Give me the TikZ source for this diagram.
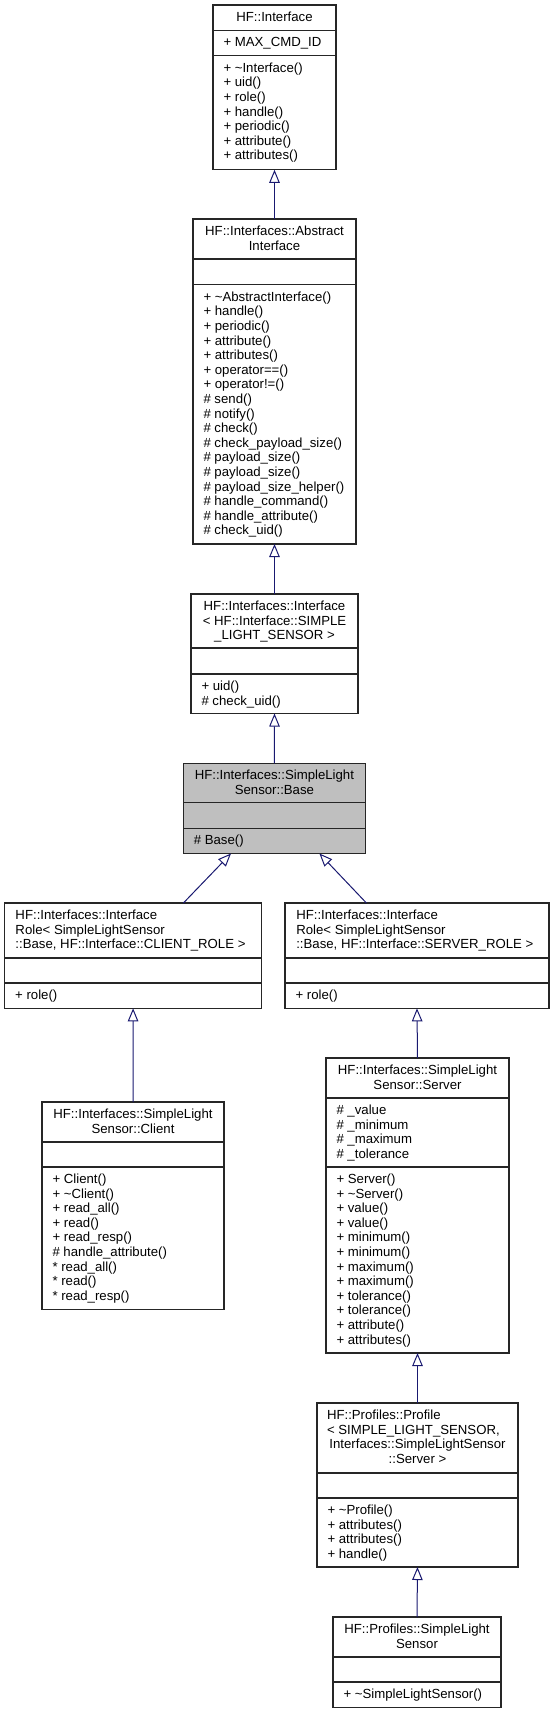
\documentclass[tikz,border=0pt]{standalone}
\usepackage{fontspec}
\setmainfont{Liberation Sans}
\usetikzlibrary{arrows.meta}
\definecolor{edgeblue}{RGB}{25,25,112}
\definecolor{basegray}{RGB}{191,191,191}
\newcommand{\hfstrut}{\rule{0pt}{12pt}}
\newcommand{\tld}{\textasciitilde}
\tikzset{
  cls/.style={draw=black!85, line width=1.1pt, fill=white, inner sep=0pt, outer sep=0pt, anchor=north west},
  sepline/.style={draw=black!85, line width=1.1pt},
  txt/.style={inner sep=0pt, outer sep=0pt, font=\fontsize{13.2}{14.6}\selectfont},
  ltxt/.style={txt, anchor=north west, align=left},
  ctxt/.style={txt, anchor=north, align=center},
  inh/.style={draw=edgeblue, line width=1pt, -{Triangle[open, length=13pt, width=10.5pt, line width=1pt]}},
}
% #1 options, #2 name, #3 x1, #4 x2, #5 top, #6 sep1, #7 sep2, #8 bottom
\newcommand{\umlbox}[8][]{%
  \pgfmathsetmacro\bxw{#4-#3}\pgfmathsetmacro\bxh{#8-#5}%
  \node[cls,#1,minimum width=\bxw pt,minimum height=\bxh pt] (#2) at (#3,#5) {};
  \draw[sepline] (#3,#6) -- (#4,#6);
  \draw[sepline] (#3,#7) -- (#4,#7);
}
\begin{document}
\begin{tikzpicture}[x=1pt,y=-1pt]
\useasboundingbox (0,0) rectangle (555,1713);

% ---------- boxes ----------
\umlbox{iface}{213}{336}{5}{30.4}{55.8}{169.8}
\umlbox{abstract}{193}{356}{219}{259}{284.8}{544}
\umlbox{ifaceT}{191}{358}{594}{648}{674}{713.5}
\umlbox[fill=basegray]{base}{183.3}{365.5}{763.3}{802.8}{828.3}{853.5}
\umlbox{clientRole}{4.7}{261.5}{903}{958}{983}{1008.3}
\umlbox{serverRole}{285}{549}{903}{958}{983}{1008.3}
\umlbox{client}{42}{224}{1102}{1142}{1167}{1309.5}
\umlbox{server}{326}{509}{1058}{1098}{1167}{1353}
\umlbox{profile}{317}{518}{1403}{1473}{1498}{1567}
\umlbox{sls}{333}{501}{1617}{1657}{1682}{1707.5}

% ---------- texts ----------
\node[ctxt] (iface-t) at (274.5,9.5) {\hfstrut HF::Interface};
\node[ltxt] (iface-a) at (223.5,34.9) {\hfstrut + MAX\_CMD\_ID};
\node[ltxt] (iface-m) at (223.5,60.3) {\hfstrut + \tld Interface()\\+ uid()\\+ role()\\+ handle()\\+ periodic()\\+ attribute()\\+ attributes()};

\node[ctxt] (abstract-t) at (274.5,223.5) {\hfstrut HF::Interfaces::Abstract\\Interface};
\node[ltxt] (abstract-m) at (203.5,289.3) {\hfstrut + \tld AbstractInterface()\\+ handle()\\+ periodic()\\+ attribute()\\+ attributes()\\+ operator==()\\+ operator!=()\\\# send()\\\# notify()\\\# check()\\\# check\_payload\_size()\\\# payload\_size()\\\# payload\_size()\\\# payload\_size\_helper()\\\# handle\_command()\\\# handle\_attribute()\\\# check\_uid()};

\node[ctxt] (ifaceT-t) at (274.5,598.5) {\hfstrut HF::Interfaces::Interface\\< HF::Interface::SIMPLE\\\_LIGHT\_SENSOR >};
\node[ltxt] (ifaceT-m) at (201.5,678.5) {\hfstrut + uid()\\\# check\_uid()};

\node[ctxt] (base-t) at (274.4,767.8) {\hfstrut HF::Interfaces::SimpleLight\\Sensor::Base};
\node[ltxt] (base-m) at (193.8,832.8) {\hfstrut \# Base()};

\node[ltxt] (clientRole-t) at (15.5,907.5) {\hfstrut HF::Interfaces::Interface\\Role< SimpleLightSensor\\::Base, HF::Interface::CLIENT\_ROLE >};
\node[ltxt] (clientRole-m) at (15.2,987.5) {\hfstrut + role()};

\node[ltxt] (serverRole-t) at (296.3,907.5) {\hfstrut HF::Interfaces::Interface\\Role< SimpleLightSensor\\::Base, HF::Interface::SERVER\_ROLE >};
\node[ltxt] (serverRole-m) at (295.5,987.5) {\hfstrut + role()};

\node[ctxt] (client-t) at (133,1106.5) {\hfstrut HF::Interfaces::SimpleLight\\Sensor::Client};
\node[ltxt] (client-m) at (52.5,1171.5) {\hfstrut + Client()\\+ \tld Client()\\+ read\_all()\\+ read()\\+ read\_resp()\\\# handle\_attribute()\\* read\_all()\\* read()\\* read\_resp()};

\node[ctxt] (server-t) at (417.5,1062.5) {\hfstrut HF::Interfaces::SimpleLight\\Sensor::Server};
\node[ltxt] (server-a) at (336.5,1102.5) {\hfstrut \# \_value\\\# \_minimum\\\# \_maximum\\\# \_tolerance};
\node[ltxt] (server-m) at (336.5,1171.5) {\hfstrut + Server()\\+ \tld Server()\\+ value()\\+ value()\\+ minimum()\\+ minimum()\\+ maximum()\\+ maximum()\\+ tolerance()\\+ tolerance()\\+ attribute()\\+ attributes()};

\node[ltxt] (profile-t1) at (327,1407.5) {\hfstrut HF::Profiles::Profile\\< SIMPLE\_LIGHT\_SENSOR,};
\node[ctxt] (profile-t2) at (417.5,1436.7) {\hfstrut Interfaces::SimpleLightSensor\\::Server >};
\node[ltxt] (profile-m) at (327.5,1502.5) {\hfstrut + \tld Profile()\\+ attributes()\\+ attributes()\\+ handle()};

\node[ctxt] (sls-t) at (417,1621.5) {\hfstrut HF::Profiles::SimpleLight\\Sensor};
\node[ltxt] (sls-m) at (343.5,1686.5) {\hfstrut + \tld SimpleLightSensor()};

% ---------- inheritance connectors ----------
\draw[inh] (abstract.north) -- (iface.south);
\draw[inh] (ifaceT.north) -- (abstract.south);
\draw[inh] (base.north) -- (ifaceT.south);
\draw[inh] ([xshift=50.3pt]clientRole.north) -- ([xshift=-43.4pt]base.south);
\draw[inh] ([xshift=-50.6pt]serverRole.north) -- ([xshift=45pt]base.south);
\draw[inh] (client.north) -- (clientRole.south);
\draw[inh] (server.north) -- (serverRole.south);
\draw[inh] (profile.north) -- (server.south);
\draw[inh] (sls.north) -- (profile.south);
\end{tikzpicture}
\end{document}
